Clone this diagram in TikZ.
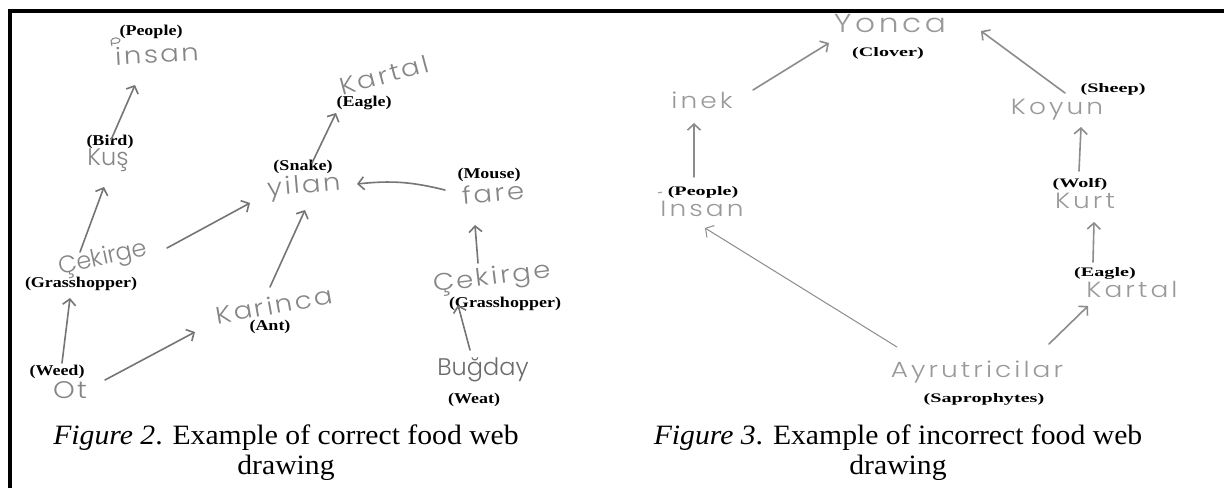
\documentclass[tikz,border=0pt]{standalone}
\usepackage{fontspec}
\setmainfont{Liberation Serif}
\newfontfamily\capfont{Liberation Serif}[FakeStretch=1.06]
\newfontfamily\labL{Liberation Serif}[FakeStretch=1.2]
\newfontfamily\labR{Liberation Serif}[FakeStretch=1.55]
\IfFontExistsTF{Poppins Light}{%
  \newfontfamily\hand{Poppins Light}%
  \newfontfamily\handsp{Poppins Light}[FakeStretch=1.15,LetterSpace=10]%
  \newfontfamily\handwide{Poppins Light}[FakeStretch=1.2,LetterSpace=14]}{%
  \newfontfamily\hand{Poppins}%
  \newfontfamily\handsp{Poppins}[FakeStretch=1.15,LetterSpace=10]%
  \newfontfamily\handwide{Poppins}[FakeStretch=1.2,LetterSpace=14]}
\usetikzlibrary{arrows.meta}
\definecolor{ink}{gray}{0.52}
\definecolor{inkdark}{gray}{0.42}
\definecolor{inklight}{gray}{0.60}
\definecolor{pencil}{gray}{0.46}
\definecolor{pencillight}{gray}{0.55}
\tikzset{
  lab/.style={inner sep=0pt, font=\labL\bfseries\fontsize{15}{18}\selectfont},
  labr/.style={inner sep=0pt, font=\labR\bfseries\fontsize{13}{15}\selectfont},
  hw/.style={inner sep=0pt, text=ink, font=\handsp\fontsize{24}{28}\selectfont},
  hwn/.style={inner sep=0pt, text=ink, font=\hand\fontsize{24}{28}\selectfont},
  hwr/.style={inner sep=0pt, text=inklight, font=\handwide\fontsize{22}{26}\selectfont},
  captext/.style={inner sep=0pt, font=\capfont\fontsize{28}{32}\selectfont},
  arr/.style={draw=pencil, line width=1.6pt, line cap=round,
    -{Straight Barb[length=6pt,width=13pt]}},
  arrr/.style={draw=pencillight, line width=1.6pt, line cap=round,
    -{Straight Barb[length=6pt,width=13pt]}},
  thinarr/.style={draw=pencillight, line width=1pt, line cap=round,
    -{Straight Barb[length=6pt,width=14pt]}},
}
\begin{document}
\begin{tikzpicture}[x=1pt,y=-1pt]
\fill[white] (0,0) rectangle (1224,488);
\useasboundingbox (0,0) rectangle (1224,488);

% frame
\draw[line width=4pt, line join=miter] (9.5,488) -- (9.5,11) -- (1224,11);

% ---------- correct food web ----------
\node[lab] (people) at (151,32) {(People)};
\node[hw, rotate=3] (insan) at (157,54) {insan};
\draw[draw=ink, line width=1pt] (112,46) -- (111,41) .. controls (112,37) and (119,37) .. (120,40)
  .. controls (120,43) and (115,44) .. (112,43);
\node[hw, rotate=15] (kartal) at (384,75) {Kartal};
\node[lab] (eagle) at (364,103) {(Eagle)};
\node[lab] (bird) at (110,142) {(Bird)};
\node[hwn] (kus) at (108,160) {Kuş};
\node[lab] (snake) at (303,167) {(Snake)};
\node[hw, rotate=5] (yilan) at (304,187) {yilan};
\node[lab] (mouse) at (489,175) {(Mouse)};
\node[hw, rotate=5] (fare) at (493,193) {fare};
\node[hwn, rotate=12] (gek1) at (103,259) {Çekirge};
\node[lab] (gh1) at (81,284) {(Grasshopper)};
\node[hw, rotate=10] (karinca) at (274,305) {Karinca};
\node[lab] (ant) at (270,327) {(Ant)};
\node[lab] (weed) at (57,372) {(Weed)};
\node[hw] (ot) at (70,390) {Ot};
\node[hw, rotate=7] (gek2) at (492,279) {Çekirge};
\node[lab] (gh2) at (505,304) {(Grasshopper)};
\node[hwn, text=inkdark] (bugday) at (483,370) {Buğday};
\node[lab] (weat) at (474,400) {(Weat)};

\draw[arr] ([shift={(3,-20)}]kus.center) -- ([shift={(-22,31)}]insan.center);
\draw[arr] ([shift={(-23,-7)}]gek1.center) -- ([shift={(-4,27)}]kus.center);
\draw[arr] ([shift={(64,-11)}]gek1.center) -- ([shift={(-54,16)}]yilan.center);
\draw[arr] ([shift={(-8,-27)}]ot.center) -- ([shift={(-33,39)}]gek1.center);
\draw[arr] ([shift={(35,-10)}]ot.center) -- ([shift={(-79,27)}]karinca.center);
\draw[arr] ([shift={(-4,-18)}]karinca.center) -- ([shift={(1,23)}]yilan.center);
\draw[arr] ([shift={(8,-24)}]yilan.center) -- ([shift={(-48,38)}]kartal.center);
\draw[arr] ([shift={(-48,-3)}]fare.center) to[bend right=10] ([shift={(53,-3)}]yilan.center);
\draw[arr] ([shift={(-14,-16)}]gek2.center) -- ([shift={(-18,32)}]fare.center);
\draw[arr] ([shift={(-13,-20)}]bugday.center) -- ([shift={(-34,26)}]gek2.center);

\node[captext] (cap2a) at (286,438) {\textit{Figure 2}. Example of correct food web};
\node[captext] (cap2b) at (286,468) {drawing};

% ---------- incorrect food web ----------
\node[hwr, font=\handwide\fontsize{26}{30}\selectfont] (yonca) at (890,24) {Yonca};
\node[labr] (clover) at (888,53) {(Clover)};
\node[hwr] (inek) at (702,100) {inek};
\node[labr] (sheep) at (1113,89) {(Sheep)};
\node[hwr] (koyun) at (1057,110) {Koyun};
\node[labr] (people2) at (703,192) {(People)};
\draw[draw=inklight, line width=1pt] (658,193) -- (662,192);
\node[hwr] (insan2) at (702,209) {Insan};
\node[labr] (wolf) at (1080,184) {(Wolf)};
\node[hwr] (kurt) at (1085,201) {Kurt};
\node[labr] (eagle2) at (1105,273) {(Eagle)};
\node[hwr] (kartal2) at (1132,289) {Kartal};
\node[hwr] (ayr) at (977,372) {Ayrutricilar};
\node[labr] (sapro) at (984,399) {(Saprophytes)};

\draw[arrr] ([shift={(51,-10)}]inek.center) -- ([shift={(-61,19)}]yonca.center);
\draw[arrr] ([shift={(8,-17)}]koyun.center) -- ([shift={(91,7)}]yonca.center);
\draw[arrr] ([shift={(-8,-32)}]insan2.center) -- ([shift={(-8,23)}]inek.center);
\draw[arrr] ([shift={(-6,-30)}]kurt.center) -- ([shift={(24,17)}]koyun.center);
\draw[arrr] ([shift={(-39,-27)}]kartal2.center) -- ([shift={(9,21)}]kurt.center);
\draw[thinarr] ([shift={(-80,-25)}]ayr.center) -- ([shift={(3,19)}]insan2.center);
\draw[arrr] ([shift={(72,-28)}]ayr.center) -- ([shift={(-44,17)}]kartal2.center);

\node[captext] (cap3a) at (898,438) {\textit{Figure 3}. Example of incorrect food web};
\node[captext] (cap3b) at (898,468) {drawing};
\end{tikzpicture}
\end{document}
